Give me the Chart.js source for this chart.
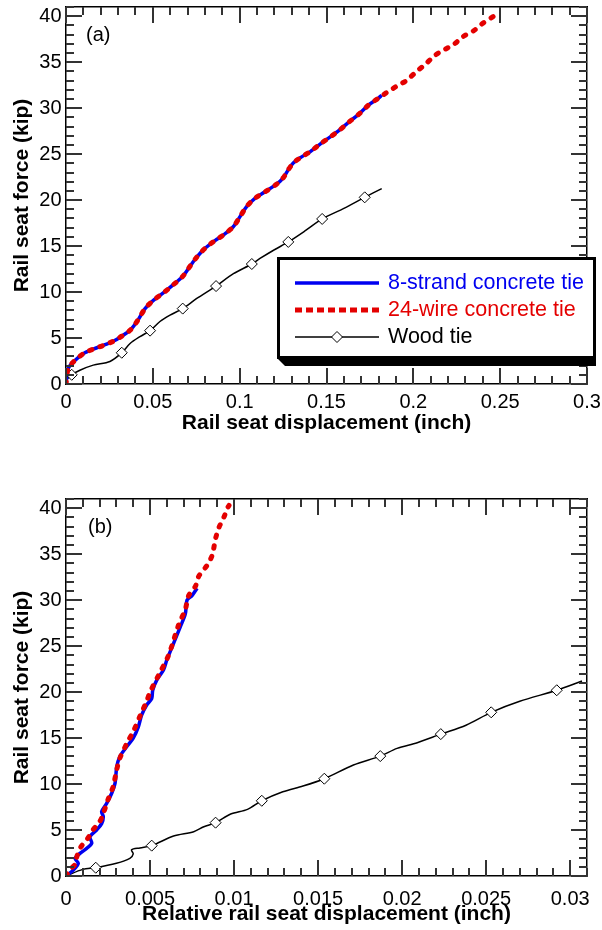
<!DOCTYPE html>
<html>
<head>
<meta charset="utf-8">
<script src="https://cdn.jsdelivr.net/npm/chart.js@4.4.0/dist/chart.umd.min.js"></script>
<style>
  html, body { margin: 0; padding: 0; background: #fff; }
  canvas { display: block; }
</style>
</head>
<body>
<canvas id="chartA" width="602" height="465"></canvas>
<canvas id="chartB" width="602" height="465"></canvas>
<script>
// (a) rail seat displacement vs force
const strandAX = [0, 0.0013, 0.0042, 0.010, 0.0157, 0.0215, 0.0272, 0.0321, 0.0372, 0.0416, 0.0455, 0.0503, 0.056, 0.0618, 0.0672, 0.0714, 0.0753, 0.080, 0.0858, 0.0906, 0.0963, 0.1002, 0.104, 0.1088, 0.1146, 0.121, 0.125, 0.128, 0.131, 0.1357, 0.1405, 0.1467, 0.1524, 0.1574, 0.163, 0.169, 0.174, 0.180, 0.1818];
const strandAY = [0, 1.7, 2.4, 3.3, 3.8, 4.2, 4.65, 5.2, 5.9, 7.0, 8.2, 9.1, 9.9, 10.8, 11.7, 12.8, 13.8, 14.75, 15.6, 16.2, 17.1, 18.2, 19.3, 20.2, 20.9, 21.7, 22.4, 23.3, 24.05, 24.7, 25.25, 26.15, 26.9, 27.6, 28.5, 29.4, 30.3, 31.1, 31.4];
const wireAX = [0, 0.0013, 0.0042, 0.010, 0.0157, 0.0215, 0.0272, 0.0321, 0.0372, 0.0416, 0.0455, 0.0503, 0.056, 0.0618, 0.0672, 0.0714, 0.0753, 0.080, 0.0858, 0.0906, 0.0963, 0.1002, 0.104, 0.1088, 0.1146, 0.121, 0.125, 0.128, 0.131, 0.1357, 0.1405, 0.1467, 0.1524, 0.1574, 0.163, 0.169, 0.174, 0.180, 0.1847, 0.1905, 0.196, 0.2016, 0.2071, 0.2125, 0.2183, 0.2234, 0.2288, 0.2346, 0.2398, 0.2455, 0.2475];
const wireAY = [0, 1.7, 2.4, 3.3, 3.8, 4.2, 4.65, 5.2, 5.9, 7.0, 8.2, 9.1, 9.9, 10.8, 11.7, 12.8, 13.8, 14.75, 15.6, 16.2, 17.1, 18.2, 19.3, 20.2, 20.9, 21.7, 22.4, 23.3, 24.05, 24.7, 25.25, 26.15, 26.9, 27.6, 28.5, 29.4, 30.3, 31.1, 31.7, 32.4, 33.0, 33.95, 34.8, 35.75, 36.4, 36.95, 37.8, 38.4, 39.2, 39.9, 40.15];
const woodAX = [0, 0.0033, 0.008, 0.0157, 0.0253, 0.0321, 0.0369, 0.0426, 0.0484, 0.0541, 0.0599, 0.0672, 0.0753, 0.0864, 0.0964, 0.107, 0.1117, 0.12, 0.128, 0.138, 0.1475, 0.16, 0.172, 0.1818];
const woodAY = [0.4, 1.0, 1.5, 2.05, 2.45, 3.4, 4.4, 5.15, 5.8, 6.8, 7.5, 8.2, 9.3, 10.65, 12.0, 13.05, 13.65, 14.6, 15.45, 16.7, 17.95, 19.1, 20.3, 21.25];
const woodMarkAX = [0.0033, 0.0321, 0.0484, 0.0672, 0.0864, 0.107, 0.128, 0.1475, 0.172];
const woodMarkAY = [1.0, 3.4, 5.8, 8.2, 10.65, 13.05, 15.45, 17.95, 20.3];

// (b) relative rail seat displacement vs force
const strandBX = [0, 0.00044, 0.00073, 0.00054, 0.00083, 0.00123, 0.00153, 0.00143, 0.00182, 0.00212, 0.00222, 0.00212, 0.00242, 0.00272, 0.00292, 0.00302, 0.00321, 0.00361, 0.0040, 0.0043, 0.0045, 0.0048, 0.0051, 0.00516, 0.0054, 0.0058, 0.0060, 0.0064, 0.0068, 0.0071, 0.0072, 0.0075, 0.0078];
const strandBY = [0, 0.65, 1.38, 1.9, 2.46, 3.0, 3.55, 4.27, 5.0, 5.7, 6.45, 7.0, 7.9, 9.0, 10.1, 11.9, 13.0, 14.05, 15.0, 16.2, 17.5, 18.6, 19.3, 20.2, 21.3, 22.4, 23.5, 25.3, 27.1, 28.5, 30.0, 30.5, 31.3];
const wireBX = [0, 0.0003, 0.00055, 0.00066, 0.0009, 0.0013, 0.0016, 0.002, 0.0022, 0.0025, 0.0028, 0.003, 0.0032, 0.0037, 0.004, 0.0045, 0.0048, 0.005, 0.0055, 0.0061, 0.0067, 0.0071, 0.0073, 0.0077, 0.0079, 0.0084, 0.0087, 0.0089, 0.0091, 0.0094, 0.0096, 0.0097];
const wireBY = [0, 0.8, 1.3, 2.2, 3.2, 4.1, 5.0, 5.9, 6.7, 8.3, 9.7, 11.4, 12.8, 14.7, 15.7, 17.8, 19.0, 20.0, 21.8, 24.0, 27.3, 29.0, 30.5, 31.5, 32.6, 33.8, 34.9, 36.7, 37.9, 39.05, 40.0, 40.3];
const woodBX = [0, 0.001, 0.00177, 0.003, 0.0038, 0.0040, 0.0039, 0.0044, 0.0051, 0.0064, 0.0076, 0.0082, 0.0089, 0.0098, 0.0108, 0.01165, 0.0129, 0.0141, 0.01537, 0.0171, 0.0187, 0.0197, 0.0209, 0.0223, 0.0238, 0.0253, 0.027, 0.0292, 0.0307];
const woodBY = [0, 0.72, 0.9, 1.38, 1.92, 2.4, 2.85, 3.05, 3.3, 4.35, 4.82, 5.36, 5.8, 6.74, 7.25, 8.18, 9.16, 9.78, 10.58, 12.07, 13.04, 13.88, 14.5, 15.43, 16.4, 17.8, 19.0, 20.2, 21.2];
const woodMarkBX = [0.00177, 0.0051, 0.0089, 0.01165, 0.01537, 0.0187, 0.0223, 0.0253, 0.0292];
const woodMarkBY = [0.9, 3.3, 5.8, 8.18, 10.58, 13.04, 15.43, 17.8, 20.2];

const seriesLabels = ['8-strand concrete tie', '24-wire concrete tie', 'Wood tie'];

const BLUE = 'rgb(0, 0, 240)';
const RED = 'rgb(228, 0, 0)';
const FONT = '"Liberation Sans", Arial, sans-serif';

Chart.defaults.font.family = FONT;
Chart.defaults.color = '#000';

const pts = (xs, ys) => xs.map((x, i) => ({ x: x, y: ys[i] }));
const fmt = v => String(Number(Number(v).toFixed(4)));

function fixWidth(w) {
    return s => { s.width = w; s.paddingTop = 0; s.paddingBottom = 0; };
}
function fixHeight(h) {
    return s => { s.height = h; s.paddingLeft = 0; s.paddingRight = 0; };
}

// axis that carries tick positions (marks drawn by innerTicks) and optionally the frame line
function tickScale(axis, position, max, step, weight, size, frame) {
    return {
        type: 'linear',
        axis: axis,
        position: position,
        min: 0,
        max: max,
        weight: weight,
        ticks: { display: false, stepSize: step, includeBounds: false, autoSkip: false },
        grid: { drawOnChartArea: false, drawTicks: false },
        border: { display: frame, color: '#000', width: 1.5 },
        afterFit: axis === 'x' ? fixHeight(size) : fixWidth(size)
    };
}

function buildScales(s) {
    const x = tickScale('x', 'bottom', s.xMax, s.xStep, 1, s.bottom, true);
    x.ticks = { stepSize: s.xStep, includeBounds: false, autoSkip: false, maxRotation: 0,
        padding: s.xPad, font: { size: 20 }, callback: fmt };
    x.title = { display: true, text: s.xTitle, font: { size: 21, weight: 'bold' },
        padding: { top: 0, bottom: s.titlePad } };

    const y = tickScale('y', 'left', 41, 5, 1, 66, true);
    y.ticks = { stepSize: 5, includeBounds: false, autoSkip: false,
        padding: 4.5, font: { size: 20 }, callback: fmt };
    y.title = { display: true, text: 'Rail seat force (kip)', font: { size: 21, weight: 'bold' },
        padding: { top: 10, bottom: 0 } };

    return {
        x: x,
        xm: tickScale('x', 'bottom', s.xMax, s.xMinor, 0, 0, false),
        xt: tickScale('x', 'top', s.xMax, s.xStep, 1, s.top, true),
        xtm: tickScale('x', 'top', s.xMax, s.xMinor, 0, 0, false),
        y: y,
        ym: tickScale('y', 'left', 41, 1, 0, 0, false),
        yr: tickScale('y', 'right', 41, 5, 1, 15, true),
        yrm: tickScale('y', 'right', 41, 1, 0, 0, false)
    };
}

function buildDatasets(strand, wire, wood, marks) {
    return [
        { label: seriesLabels[0], data: strand, borderColor: BLUE, borderWidth: 3.5,
          pointRadius: 0, tension: 0.3, order: 1 },
        { label: seriesLabels[1], data: wire, borderColor: RED, borderWidth: 5,
          borderDash: [2.5, 8.5], borderCapStyle: 'round', pointRadius: 0, tension: 0.3, order: 0 },
        { label: seriesLabels[2], data: wood, borderColor: '#000', borderWidth: 1.5,
          pointRadius: 0, tension: 0.3, order: 1 },
        { label: 'wood markers', data: marks, showLine: false, pointStyle: 'rectRot',
          pointRadius: 5.5, pointBackgroundColor: '#fff', pointBorderColor: '#000',
          pointBorderWidth: 1, order: 0 }
    ];
}

// tick marks pointing into the plot on all four sides
const tickLen = { x: 16, xt: 16, y: 16, yr: 16, xm: 8, xtm: 8, ym: 8, yrm: 8 };
const innerTicks = {
    id: 'innerTicks',
    afterDraw(chart) {
        const ctx = chart.ctx;
        const a = chart.chartArea;
        ctx.save();
        ctx.setLineDash([]);
        ctx.strokeStyle = '#333';
        ctx.lineWidth = 2;
        ctx.lineCap = 'butt';
        Object.keys(tickLen).forEach(id => {
            const s = chart.scales[id];
            const len = tickLen[id];
            s.ticks.forEach(t => {
                const p = Math.round(s.getPixelForValue(t.value));
                ctx.beginPath();
                if (s.position === 'bottom') { ctx.moveTo(p, a.bottom); ctx.lineTo(p, a.bottom - len); }
                else if (s.position === 'top') { ctx.moveTo(p, a.top); ctx.lineTo(p, a.top + len); }
                else if (s.position === 'left') { ctx.moveTo(a.left, p); ctx.lineTo(a.left + len, p); }
                else { ctx.moveTo(a.right, p); ctx.lineTo(a.right - len, p); }
                ctx.stroke();
            });
        });
        ctx.restore();
    }
};

const panelLabel = {
    id: 'panelLabel',
    afterDraw(chart, args, opts) {
        const ctx = chart.ctx;
        ctx.save();
        ctx.font = '20px ' + FONT;
        ctx.fillStyle = '#000';
        ctx.textBaseline = 'middle';
        ctx.fillText(opts.text, chart.chartArea.left + opts.dx, chart.chartArea.top + opts.dy);
        ctx.restore();
    }
};

const boxLegend = {
    id: 'boxLegend',
    afterDraw(chart, args, opts) {
        if (!opts.show) return;
        const ctx = chart.ctx;
        const b = opts.box;
        ctx.save();
        // drop shadow under the box
        ctx.fillStyle = '#000';
        ctx.beginPath();
        ctx.moveTo(b.left + 1, b.bottom);
        ctx.lineTo(b.right, b.bottom);
        ctx.lineTo(b.right, b.bottom + 7);
        ctx.lineTo(b.left + 8, b.bottom + 7);
        ctx.closePath();
        ctx.fill();
        ctx.fillStyle = '#fff';
        ctx.fillRect(b.left, b.top, b.right - b.left, b.bottom - b.top);
        ctx.lineWidth = 3;
        ctx.strokeStyle = '#000';
        ctx.strokeRect(b.left + 1.5, b.top + 1.5, b.right - b.left - 3, b.bottom - b.top - 3);

        ctx.font = '21.5px ' + FONT;
        ctx.textBaseline = 'middle';
        const x0 = b.left + 18, x1 = b.left + 102;
        [0, 1, 2].forEach(i => {
            const ds = chart.data.datasets[i];
            const y = b.top + 26 + i * 27;
            ctx.beginPath();
            ctx.strokeStyle = ds.borderColor;
            ctx.lineWidth = i === 1 ? 5 : ds.borderWidth;
            ctx.setLineDash(i === 1 ? [7, 4] : []);
            ctx.lineCap = 'butt';
            ctx.moveTo(x0, y);
            ctx.lineTo(x1, y);
            ctx.stroke();
            ctx.setLineDash([]);
            if (i === 2) {
                const m = chart.data.datasets[3];
                const cx = (x0 + x1) / 2, r = m.pointRadius;
                ctx.beginPath();
                ctx.moveTo(cx, y - r);
                ctx.lineTo(cx + r, y);
                ctx.lineTo(cx, y + r);
                ctx.lineTo(cx - r, y);
                ctx.closePath();
                ctx.fillStyle = m.pointBackgroundColor;
                ctx.fill();
                ctx.lineWidth = m.pointBorderWidth;
                ctx.strokeStyle = m.pointBorderColor;
                ctx.stroke();
            }
            ctx.fillStyle = i === 2 ? '#000' : ds.borderColor;
            ctx.fillText(ds.label, b.left + 111, y);
        });
        ctx.restore();
    }
};

new Chart(document.getElementById('chartA'), {
    type: 'line',
    data: {
        datasets: buildDatasets(pts(strandAX, strandAY), pts(wireAX, wireAY),
            pts(woodAX, woodAY), pts(woodMarkAX, woodMarkAY))
    },
    options: {
        responsive: false,
        animation: false,
        events: [],
        layout: { padding: 0 },
        scales: buildScales({ xMax: 0.3, xStep: 0.05, xMinor: 0.01, top: 7, bottom: 81,
            xPad: 6, titlePad: 29.5, xTitle: 'Rail seat displacement (inch)' }),
        plugins: {
            legend: { display: false },
            tooltip: { enabled: false },
            panelLabel: { text: '(a)', dx: 20, dy: 28 },
            boxLegend: { show: true, box: { left: 277, top: 257, right: 596, bottom: 359 } }
        }
    },
    plugins: [innerTicks, panelLabel, boxLegend]
});

new Chart(document.getElementById('chartB'), {
    type: 'line',
    data: {
        datasets: buildDatasets(pts(strandBX, strandBY), pts(wireBX, wireBY),
            pts(woodBX, woodBY), pts(woodMarkBX, woodMarkBY))
    },
    options: {
        responsive: false,
        animation: false,
        events: [],
        layout: { padding: 0 },
        scales: buildScales({ xMax: 0.031, xStep: 0.005, xMinor: 0.001, top: 34, bottom: 54,
            xPad: 11, titlePad: 3.5, xTitle: 'Relative rail seat displacement (inch)' }),
        plugins: {
            legend: { display: false },
            tooltip: { enabled: false },
            panelLabel: { text: '(b)', dx: 22, dy: 28 },
            boxLegend: { show: false }
        }
    },
    plugins: [innerTicks, panelLabel, boxLegend]
});
</script>
</body>
</html>
